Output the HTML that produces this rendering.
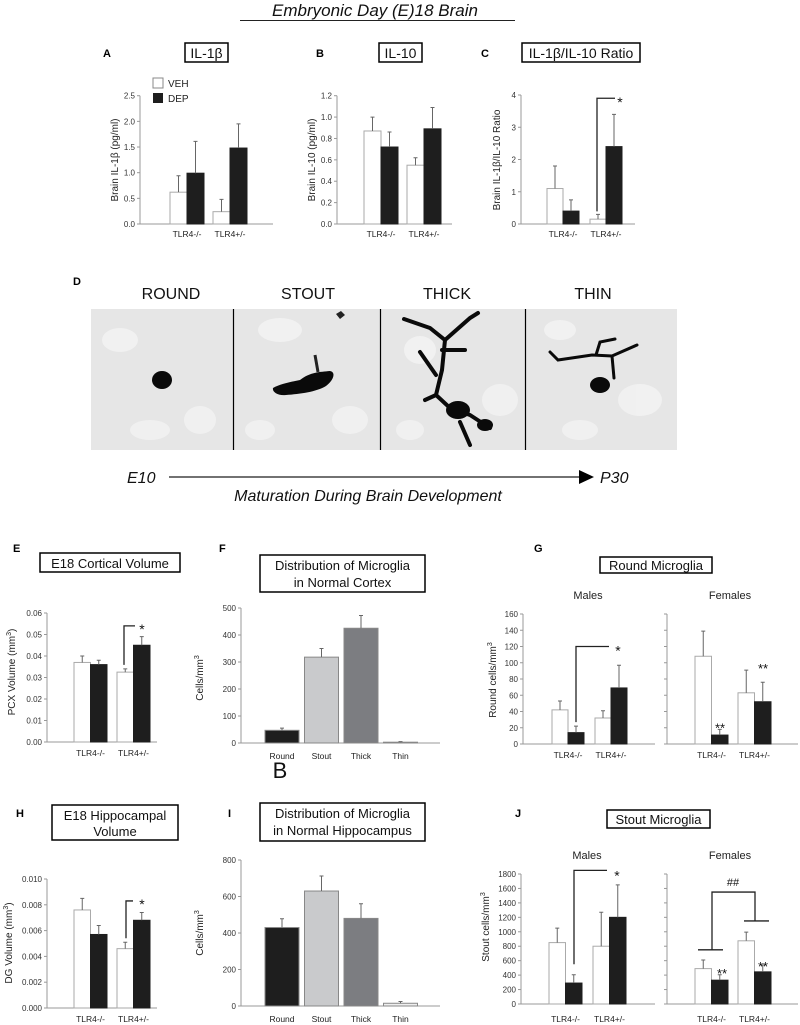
<!DOCTYPE html>
<html><head><meta charset="utf-8"><style>
html,body{margin:0;padding:0;background:#fff;}
svg{display:block;font-family:"Liberation Sans",Arial,sans-serif;}
</style></head><body>
<svg id="fig" width="800" height="1025" viewBox="0 0 800 1025" xmlns="http://www.w3.org/2000/svg">
<rect width="800" height="1025" fill="#fff"/>
<text x="375" y="16" font-size="17" font-style="italic" text-anchor="middle" fill="#111">Embryonic Day (E)18 Brain</text>
<line x1="240" y1="20.5" x2="515" y2="20.5" stroke="#222" stroke-width="1"/>

<g font-weight="bold" font-size="11" fill="#000">
<text x="103" y="57">A</text>
<text x="316" y="57">B</text>
<text x="481" y="57">C</text>
<text x="73" y="285">D</text>
<text x="13" y="552">E</text>
<text x="219" y="552">F</text>
<text x="534" y="552">G</text>
<text x="16" y="817">H</text>
<text x="228" y="817">I</text>
<text x="515" y="817">J</text>
</g>
<text x="280" y="778" font-size="22" text-anchor="middle" fill="#111">B</text>

<g fill="#fff" stroke="#000" stroke-width="1.5">
<rect x="185" y="43" width="43" height="19"/>
<rect x="379" y="43" width="43" height="19"/>
<rect x="522" y="43" width="118" height="19"/>
<rect x="40" y="553" width="140" height="19"/>
<rect x="260" y="555" width="165" height="37"/>
<rect x="600" y="557" width="112" height="16"/>
<rect x="52" y="805" width="126" height="35"/>
<rect x="260" y="803" width="165" height="38"/>
<rect x="607" y="810" width="103" height="18"/>
</g>
<g font-size="14" text-anchor="middle" fill="#111">
<text x="206.5" y="58">IL-1β</text>
<text x="400.5" y="58">IL-10</text>
<text x="581" y="58">IL-1β/IL-10 Ratio</text>
<text x="110" y="568" font-size="13">E18 Cortical Volume</text>
<text x="342.5" y="570" font-size="13">Distribution of Microglia</text>
<text x="342.5" y="587" font-size="13">in Normal Cortex</text>
<text x="656" y="570" font-size="13">Round Microglia</text>
<text x="115" y="820" font-size="13">E18 Hippocampal</text>
<text x="115" y="836" font-size="13">Volume</text>
<text x="342.5" y="818" font-size="13">Distribution of Microglia</text>
<text x="342.5" y="835" font-size="13">in Normal Hippocampus</text>
<text x="658.5" y="824" font-size="13">Stout Microglia</text>
</g>
<g font-size="11" text-anchor="middle" fill="#222">
<text x="588" y="599">Males</text>
<text x="730" y="599">Females</text>
<text x="587" y="859">Males</text>
<text x="730" y="859">Females</text>
</g>

<rect x="153" y="78" width="10" height="10" fill="#fff" stroke="#888"/>
<text x="168" y="87" font-size="10" fill="#222">VEH</text>
<rect x="153" y="93" width="10" height="10" fill="#1e1e1e"/>
<text x="168" y="102" font-size="10" fill="#222">DEP</text>

<g>
<rect x="91" y="309" width="586" height="141" fill="#e6e6e6"/>
<g fill="#f2f2f2" opacity="0.9">
<ellipse cx="120" cy="340" rx="18" ry="12"/><ellipse cx="200" cy="420" rx="16" ry="14"/><ellipse cx="150" cy="430" rx="20" ry="10"/>
<ellipse cx="280" cy="330" rx="22" ry="12"/><ellipse cx="350" cy="420" rx="18" ry="14"/><ellipse cx="260" cy="430" rx="15" ry="10"/>
<ellipse cx="420" cy="350" rx="16" ry="14"/><ellipse cx="500" cy="400" rx="18" ry="16"/><ellipse cx="410" cy="430" rx="14" ry="10"/>
<ellipse cx="560" cy="330" rx="16" ry="10"/><ellipse cx="640" cy="400" rx="22" ry="16"/><ellipse cx="580" cy="430" rx="18" ry="10"/>
</g>
<ellipse cx="162" cy="380" rx="10" ry="9" fill="#0a0a0a"/>
<path d="M273,388 C280,384 290,382 300,380 C310,372 320,372 330,371 C336,372 334,380 326,386 C316,392 300,394 286,395 C278,396 272,392 273,388 Z" fill="#0a0a0a"/>
<path d="M315,355 L318,372" stroke="#222" stroke-width="3"/><path d="M336,314 l5,-3 l4,4 l-5,4 Z" fill="#222"/>
<g stroke="#0a0a0a" stroke-width="4" fill="none" stroke-linecap="round">
<path d="M404,319 L430,328 L445,340 L470,318 L478,313"/>
<path d="M445,340 L442,370 L436,395 L450,408 L470,415 L490,428"/>
<path d="M436,375 L420,352"/><path d="M442,350 L465,350"/><path d="M460,422 L470,445"/><path d="M436,395 L425,400"/>
</g>
<ellipse cx="458" cy="410" rx="12" ry="9" fill="#0a0a0a"/><ellipse cx="485" cy="425" rx="8" ry="6" fill="#0a0a0a"/>
<g stroke="#0a0a0a" stroke-width="3" fill="none" stroke-linecap="round">
<path d="M550,352 L558,360 L592,355 L612,356 L637,345"/>
<path d="M596,355 L600,342 L615,339"/><path d="M612,356 L614,378"/>
</g>
<ellipse cx="600" cy="385" rx="10" ry="8" fill="#0a0a0a"/>
<g stroke="#000" stroke-width="1.2">
<line x1="233.5" y1="309" x2="233.5" y2="450"/><line x1="380.5" y1="309" x2="380.5" y2="450"/><line x1="525.5" y1="309" x2="525.5" y2="450"/>
</g>
</g>
<g font-size="16" text-anchor="middle" fill="#111">
<text x="171" y="299">ROUND</text>
<text x="308" y="299">STOUT</text>
<text x="447" y="299">THICK</text>
<text x="593" y="299">THIN</text>
</g>
<text x="127" y="483" font-size="16" font-style="italic" fill="#111">E10</text>
<line x1="169" y1="477" x2="581" y2="477" stroke="#444" stroke-width="1.6"/>
<polygon points="579,470 594,477 579,484" fill="#000"/>
<text x="600" y="483" font-size="16" font-style="italic" fill="#111">P30</text>
<text x="368" y="501" font-size="16" font-style="italic" text-anchor="middle" fill="#111">Maturation During Brain Development</text>

<g id="charts"></g>
</svg>
<script>
const groupCats = ["TLR4-/-", "TLR4+/-"];
const shapeCats = ["Round", "Stout", "Thick", "Thin"];
const aTicks = ["0.0","0.5","1.0","1.5","2.0","2.5"];
const aVeh = [0.62, 0.24];
const aVehErr = [0.94, 0.48];
const aDep = [0.99, 1.48];
const aDepErr = [1.61, 1.95];
const bTicks = ["0.0","0.2","0.4","0.6","0.8","1.0","1.2"];
const bVeh = [0.87, 0.55];
const bVehErr = [1.00, 0.62];
const bDep = [0.72, 0.89];
const bDepErr = [0.86, 1.09];
const cTicks = ["0","1","2","3","4"];
const cVeh = [1.1, 0.15];
const cVehErr = [1.8, 0.3];
const cDep = [0.4, 2.4];
const cDepErr = [0.75, 3.4];
const eTicks = ["0.00","0.01","0.02","0.03","0.04","0.05","0.06"];
const eVeh = [0.037, 0.0325];
const eVehErr = [0.040, 0.034];
const eDep = [0.036, 0.045];
const eDepErr = [0.038, 0.049];
const fTicks = ["0","100","200","300","400","500"];
const fVals = [47, 318, 425, 3];
const fErr = [55, 350, 472, 5];
const gTicks = ["0","20","40","60","80","100","120","140","160"];
const gMaleVeh = [42, 32];
const gMaleVehErr = [53, 41];
const gMaleDep = [14, 69];
const gMaleDepErr = [22, 97];
const gFemVeh = [108, 63];
const gFemVehErr = [139, 91];
const gFemDep = [11, 52];
const gFemDepErr = [18, 76];
const hTicks = ["0.000","0.002","0.004","0.006","0.008","0.010"];
const hVeh = [0.0076, 0.0046];
const hVehErr = [0.0085, 0.0051];
const hDep = [0.0057, 0.0068];
const hDepErr = [0.0064, 0.0074];
const iTicks = ["0","200","400","600","800"];
const iVals = [430, 630, 480, 15];
const iErr = [478, 712, 560, 25];
const jTicks = ["0","200","400","600","800","1000","1200","1400","1600","1800"];
const jMaleVeh = [850, 800];
const jMaleVehErr = [1050, 1270];
const jMaleDep = [290, 1200];
const jMaleDepErr = [405, 1650];
const jFemVeh = [490, 875];
const jFemVehErr = [610, 995];
const jFemDep = [330, 445];
const jFemDepErr = [405, 540];
const shapeColors = ["#1e1e1e", "#c9cacc", "#7c7d81", "#eeeeee"];

const NS = "http://www.w3.org/2000/svg";
const root = document.getElementById("charts");
function mk(tag, attrs, parent) {
  const e = document.createElementNS(NS, tag);
  for (const k in attrs) e.setAttribute(k, attrs[k]);
  (parent || root).appendChild(e);
  return e;
}
function scaleY(ax) { return v => ax.yBot - v / ax.max * (ax.yBot - ax.yTop); }

function drawAxis(name, ax, ticks, showLabels) {
  const g = mk("g", {});
  
  
  const y = scaleY(ax);
  const yl = mk("line", {x1: ax.x, y1: ax.yTop, x2: ax.x, y2: ax.yBot, stroke: "#999", "stroke-width": 1}, g);
  
  
  const xl = mk("line", {x1: ax.x - 3, y1: ax.yBot, x2: ax.xEnd, y2: ax.yBot, stroke: "#999", "stroke-width": 1}, g);
  
  
  ticks.forEach(t => {
    const v = parseFloat(t);
    const ty = y(v);
    mk("line", {x1: ax.x - 3, y1: ty, x2: ax.x, y2: ty, stroke: "#999"}, g);
    if (showLabels) {
      const tx = mk("text", {x: ax.x - 5, y: ty + 3, "font-size": 8, "text-anchor": "end", fill: "#333"}, g);
      
      
      tx.textContent = t;
    }
  });
  return y;
}
function drawBar(name, x, w, v, err, fill, stroke, y) {
  const r = mk("rect", {x: x, y: y(v), width: w, height: y(0) - y(v), fill: fill, stroke: stroke, "stroke-width": 1});
  
  
  const cx = x + w / 2;
  const e = mk("path", {d: `M${cx},${y(v)}V${y(err)}M${cx - 2},${y(err)}H${cx + 2}`, stroke: "#666", "stroke-width": 1, fill: "none"});
  
  
}
function xLabels(name, cats, centers, yPos) {
  cats.forEach((c, i) => {
    const t = mk("text", {x: centers[i], y: yPos, "font-size": 8.5, "text-anchor": "middle", fill: "#222"});
    
    
    t.textContent = c;
  });
}
function yTitle(name, txt, x, cy, sup) {
  const t = mk("text", {x: 0, y: 0, "font-size": 10, "text-anchor": "middle", fill: "#222", transform: `translate(${x},${cy}) rotate(-90)`});
  
  
  t.textContent = txt;
  if (sup) { const s = mk("tspan", {dy: -4, "font-size": 7}, t); s.textContent = sup; const s2 = mk("tspan", {dy: 4}, t); s2.textContent = txt.indexOf("(") >= 0 ? ")" : ""; }
}
function grouped(name, ax, ticks, showLabels, veh, vehErr, dep, depErr, L, w, s, labelY) {
  const y = drawAxis(name, ax, ticks, showLabels);
  const centers = [];
  veh.forEach((v, i) => {
    const x = L + i * s;
    drawBar(name + '-bar-veh-' + (i + 1), x, w, v, vehErr[i], "#fff", "#aaa", y);
    drawBar(name + '-bar-dep-' + (i + 1), x + w, w, dep[i], depErr[i], "#1e1e1e", "#1e1e1e", y);
    centers.push(x + w);
  });
  xLabels(name, groupCats, centers, labelY);
  return y;
}
function single(name, ax, ticks, vals, errs, L, w, s, labelY) {
  const y = drawAxis(name, ax, ticks, true);
  const centers = [];
  vals.forEach((v, i) => {
    const x = L + i * s;
    drawBar(name + '-bar-' + shapeCats[i].toLowerCase(), x, w, v, errs[i], shapeColors[i], "#888", y);
    centers.push(x + w / 2);
  });
  xLabels(name, shapeCats, centers, labelY);
}
function bracket(name, d) {
  const p = mk("path", {d: d, stroke: "#222", "stroke-width": 1.3, fill: "none"});
  
  
}
function mark(name, txt, x, yy, size) {
  const t = mk("text", {x: x, y: yy, "font-size": size || 14, "text-anchor": "middle", fill: "#111"});
  
  
  t.textContent = txt;
}

grouped("chart-a", {x: 140, yTop: 95.7, yBot: 224, max: 2.5, xEnd: 273}, aTicks, true, aVeh, aVehErr, aDep, aDepErr, 170, 17, 43, 237);
yTitle("chart-a", "Brain IL-1β (pg/ml)", 118, 160);
grouped("chart-b", {x: 337, yTop: 95.7, yBot: 224, max: 1.2, xEnd: 452}, bTicks, true, bVeh, bVehErr, bDep, bDepErr, 364, 17, 43, 237);
yTitle("chart-b", "Brain IL-10 (pg/ml)", 315, 160);
const yC = grouped("chart-c", {x: 521, yTop: 95, yBot: 224, max: 4, xEnd: 635}, cTicks, true, cVeh, cVehErr, cDep, cDepErr, 547, 16, 43, 237);
yTitle("chart-c", "Brain IL-1β/IL-10 Ratio", 500, 160);
bracket("chart-c-sig-bracket", `M597,${yC(cVehErr[1]) - 3}V${yC(3.9)}H615`);
mark("chart-c-sig-star", "*", 620, yC(3.9) + 9);
const yE = grouped("chart-e", {x: 47, yTop: 613, yBot: 742, max: 0.06, xEnd: 157}, eTicks, true, eVeh, eVehErr, eDep, eDepErr, 74, 16.5, 43, 756);
yTitle("chart-e", "PCX Volume (mm", 15, 672, "3");
bracket("chart-e-sig-bracket", `M124,${yE(eVehErr[1]) - 4}V${yE(0.054)}H135`);
mark("chart-e-sig-star", "*", 142, yE(0.054) + 8);
single("chart-f", {x: 241, yTop: 608, yBot: 743, max: 500, xEnd: 440}, fTicks, fVals, fErr, 265, 34, 39.5, 759);
yTitle("chart-f", "Cells/mm", 203, 678, "3");
const yGm = grouped("chart-g-males", {x: 523, yTop: 614, yBot: 744, max: 160, xEnd: 655}, gTicks, true, gMaleVeh, gMaleVehErr, gMaleDep, gMaleDepErr, 552, 16, 43, 758);
yTitle("chart-g", "Round cells/mm", 496, 680, "3");
bracket("chart-g-males-sig-bracket", `M576,${yGm(gMaleDepErr[0]) - 4}V${yGm(120)}H609`);
mark("chart-g-males-sig-star", "*", 618, yGm(120) + 9);
const yGf = grouped("chart-g-females", {x: 667, yTop: 614, yBot: 744, max: 160, xEnd: 798}, gTicks, false, gFemVeh, gFemVehErr, gFemDep, gFemDepErr, 695, 16.5, 43, 758);
mark("chart-g-females-sig-1", "**", 720, yGf(gFemDepErr[0]) + 3, 13);
mark("chart-g-females-sig-2", "**", 763, yGf(gFemVehErr[1]) + 3, 13);
const yH = grouped("chart-h", {x: 47, yTop: 879, yBot: 1008, max: 0.010, xEnd: 157}, hTicks, true, hVeh, hVehErr, hDep, hDepErr, 74, 16.5, 43, 1022);
yTitle("chart-h", "DG Volume (mm", 12, 943, "3");
bracket("chart-h-sig-bracket", `M126,${yH(hVehErr[1]) - 4}V${yH(0.0083)}H133`);
mark("chart-h-sig-star", "*", 142, yH(0.0083) + 8);
single("chart-i", {x: 241, yTop: 860, yBot: 1006, max: 800, xEnd: 440}, iTicks, iVals, iErr, 265, 34, 39.5, 1022);
yTitle("chart-i", "Cells/mm", 203, 933, "3");
const yJm = grouped("chart-j-males", {x: 521, yTop: 874, yBot: 1004, max: 1800, xEnd: 655}, jTicks, true, jMaleVeh, jMaleVehErr, jMaleDep, jMaleDepErr, 549, 16.5, 44, 1022);
yTitle("chart-j", "Stout cells/mm", 489, 927, "3");
bracket("chart-j-males-sig-bracket", `M574,${yJm(550)}V${yJm(1850)}H607`);
mark("chart-j-males-sig-star", "*", 617, yJm(1850) + 10);
const yJf = grouped("chart-j-females", {x: 667, yTop: 874, yBot: 1004, max: 1800, xEnd: 798}, jTicks, false, jFemVeh, jFemVehErr, jFemDep, jFemDepErr, 695, 16.5, 43, 1022);
mark("chart-j-females-sig-1", "**", 722, yJf(jFemDepErr[0]) + 3, 13);
mark("chart-j-females-sig-2", "**", 763, yJf(jFemDepErr[1]) + 6, 13);
bracket("chart-j-females-hash-bracket", `M698,${yJf(750)}H723M712,${yJf(750)}V${yJf(1550)}H755V${yJf(1150)}M744,${yJf(1150)}H769`);
mark("chart-j-females-hash", "##", 733, yJf(1550) - 6, 11);
</script>
</body></html>
